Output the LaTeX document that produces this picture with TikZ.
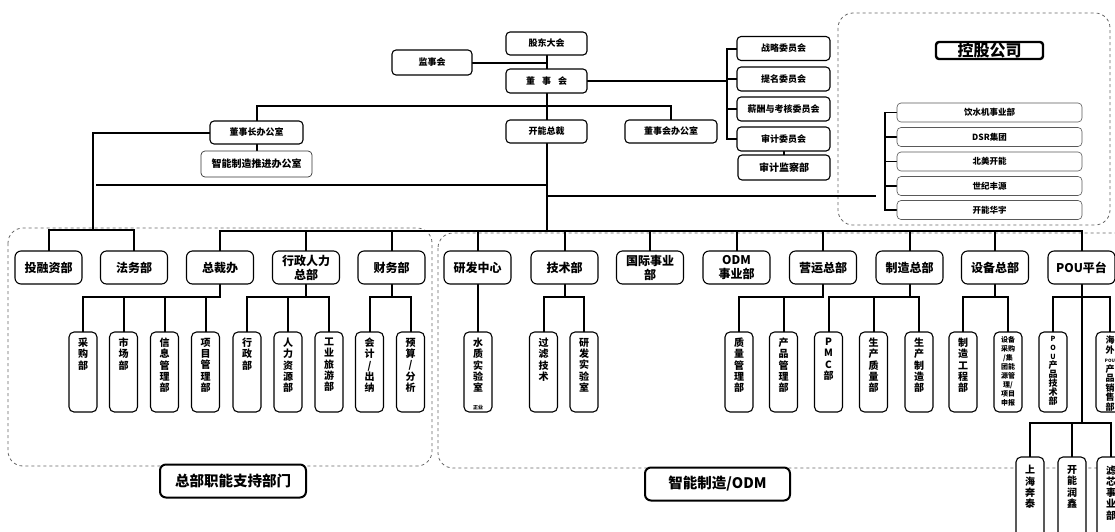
\documentclass[tikz,border=0pt]{standalone}
\usepackage{fontspec}
\setmainfont{Noto Sans CJK SC}
\pgfdeclarelayer{back}
\pgfdeclarelayer{bg}
\pgfsetlayers{back,bg,main}
\newcommand{\vt}[2][5pt]{\parbox[c][78pt][t]{28pt}{\centering\vspace*{#1}#2}}
\begin{document}
\begin{tikzpicture}[x=1pt,y=-1pt,
 base/.style={draw=black,line width=1.1pt,rounded corners=4pt,fill=white,inner sep=0pt,align=center},
 topbox/.style={base,minimum height=23pt,font=\bfseries\fontsize{9}{10}\selectfont},
 rowbox/.style={base,rounded corners=6pt,minimum width=67pt,minimum height=33pt,font=\bfseries\fontsize{12}{14}\selectfont},
 vbox/.style={base,rounded corners=5pt,minimum width=28pt,minimum height=80pt,font=\bfseries\fontsize{10}{11.3}\selectfont},
 subbox/.style={draw=gray!70!black,line width=0.6pt,rounded corners=4pt,fill=white,inner sep=0pt,minimum width=185pt,minimum height=19pt,font=\bfseries\fontsize{8.5}{10}\selectfont},
 labbox/.style={base,line width=2pt,rounded corners=6pt,minimum width=146pt,minimum height=33pt,font=\bfseries\fontsize{14.5}{16}\selectfont},
 conn/.style={line width=2pt,line cap=rect},
 thinconn/.style={line width=1.5pt},
 region/.style={draw=gray!80!black,dashed,line width=0.8pt,rounded corners=15pt}
]
\useasboundingbox (0,0) rectangle (1115,531);
\clip (0,0) rectangle (1115,531);
\begin{pgfonlayer}{back}
\fill[white] (0,0) rectangle (1115,531);
\draw[region] (8,228) rectangle (432,466);
\draw[region] (438,233) rectangle (1160,468);
\draw[region] (838,13) rectangle (1110,225);
\end{pgfonlayer}

% top
\node[topbox,minimum width=81pt] (gd) at (546.5,43.5) {股东大会};
\node[topbox,minimum width=80pt,minimum height=25pt] (jsh) at (432,62.5) {监事会};
\node[topbox,minimum width=81pt,minimum height=24pt] (dsh) at (546.5,81) {董\hspace{7pt}事\hspace{7pt}会};
\node[topbox,minimum width=81pt] (kz) at (546.5,131.5) {开能总裁};
\node[topbox,minimum width=92pt] (dbo) at (671,131.5) {董事会办公室};
\node[topbox,minimum width=93pt] (dzb) at (256.5,132.5) {董事长办公室};
\node[topbox,draw=black!80,line width=0.7pt,minimum width=111pt,minimum height=26pt,font=\bfseries\fontsize{10}{11}\selectfont] (zn) at (256.5,164) {智能制造推进办公室};

% committees
\node[topbox,minimum width=93pt,minimum height=24pt] (zl) at (783.5,48.5) {战略委员会};
\node[topbox,minimum width=93pt,minimum height=24pt] (tm) at (783.5,79) {提名委员会};
\node[topbox,minimum width=93pt,minimum height=24pt] (xc) at (783.5,109) {薪酬与考核委员会};
\node[topbox,minimum width=93pt,minimum height=24pt] (sj) at (783.5,139) {审计委员会};
\node[topbox,minimum width=92pt,minimum height=25pt,font=\bfseries\fontsize{10}{11}\selectfont] (sjb) at (784,167.5) {审计监察部};

% holding
\node[base,line width=2.4pt,rounded corners=3pt,minimum width=107pt,minimum height=17pt,font=\bfseries\fontsize{16}{16}\selectfont] (kg) at (989.5,50.5) {控股公司};
\node[subbox] (h1) at (989.5,112.5) {饮水机事业部};
\node[subbox] (h2) at (989.5,137) {DSR集团};
\node[subbox] (h3) at (989.5,161.5) {北美开能};
\node[subbox] (h4) at (989.5,186) {世纪丰源};
\node[subbox] (h5) at (989.5,210) {开能华宇};

% row 1
\node[rowbox] (tr) at (48.5,267.5) {投融资部};
\node[rowbox] (fw) at (134,267.5) {法务部};
\node[rowbox] (zc) at (220,267.5) {总裁办};
\node[rowbox] (xz) at (306,267.5) {行政人力\\总部};
\node[rowbox] (cw) at (391.5,267.5) {财务部};
\node[rowbox] (yf) at (477.5,267.5) {研发中心};
\node[rowbox] (jsb) at (564.5,267.5) {技术部};
\node[rowbox] (gj) at (650,267.5) {国际事业\\部};
\node[rowbox] (odm) at (736.5,267.5) {ODM\\事业部};
\node[rowbox] (yy) at (823,267.5) {营运总部};
\node[rowbox] (zz) at (909.5,267.5) {制造总部};
\node[rowbox] (sb) at (995,267.5) {设备总部};
\node[rowbox] (pou) at (1081.5,267.5) {POU平台};

% row 2
\node[vbox] (cg) at (83,372) {\vt{采\\购\\部}};
\node[vbox] (sc) at (123.5,372) {\vt{市\\场\\部}};
\node[vbox] (xx) at (164.5,372) {\vt{信\\息\\管\\理\\部}};
\node[vbox] (xm) at (205.5,372) {\vt{项\\目\\管\\理\\部}};
\node[vbox] (xzb) at (247,372) {\vt{行\\政\\部}};
\node[vbox] (rl) at (288,372) {\vt{人\\力\\资\\源\\部}};
\node[vbox] (gy) at (329,372) {\vt{工\\业\\旅\\游\\部}};
\node[vbox] (kj) at (369.5,372) {\vt{会\\计\\/\\出\\纳}};
\node[vbox] (ys) at (410.5,372) {\vt{预\\算\\/\\分\\析}};
\node[vbox] (szs) at (478,372) {\vt{水\\质\\实\\验\\室\par\vfill{\fontsize{5}{5}\selectfont 正业}\par\vspace{1pt}}};
\node[vbox] (gl) at (543.5,372) {\vt{过\\滤\\技\\术}};
\node[vbox] (yfs) at (584,372) {\vt{研\\发\\实\\验\\室}};
\node[vbox] (zlb) at (739,372) {\vt{质\\量\\管\\理\\部}};
\node[vbox] (cp) at (783.5,372) {\vt{产\\品\\管\\理\\部}};
\node[vbox] (pmc) at (828.5,372) {\vt{P\\M\\C\\部}};
\node[vbox] (sczl) at (873.5,372) {\vt{生\\产\\质\\量\\部}};
\node[vbox] (sczz) at (919,372) {\vt{生\\产\\制\\造\\部}};
\node[vbox] (zzgc) at (963,372) {\vt{制\\造\\工\\程\\部}};
\node[vbox,font=\bfseries\fontsize{7}{9}\selectfont] (sbcg) at (1008,372) {\vt[3pt]{设备\\采购\\/集\\团能\\源管\\理/\\项目\\申报}};
\node[vbox,font=\bfseries\fontsize{9}{9}\selectfont] (pout) at (1053,372) {\vt[3pt]{{\fontsize{7}{9}\selectfont P}\\{\fontsize{7}{9}\selectfont O}\\{\fontsize{7}{9}\selectfont U}\\产\\品\\技\\术\\部}};
\node[vbox,font=\bfseries\fontsize{9}{9.5}\selectfont] (hw) at (1110,372) {\vt[3pt]{海\\外\\{\fontsize{4.5}{5}\selectfont POU}\\产\\品\\销\\售\\部}};

% row 3
\node[vbox,minimum height=85pt] (sh) at (1030,499.5) {\vt{上\\海\\奔\\泰}};
\node[vbox,minimum height=85pt] (rx) at (1072,499.5) {\vt{开\\能\\润\\鑫}};
\node[vbox,minimum height=85pt] (lxb) at (1111,499.5) {\vt{滤\\芯\\事\\业\\部}};

% labels
\node[labbox] (lab1) at (233,481) {总部职能支持部门};
\node[labbox,minimum width=145pt] (lab2) at (717.5,484) {智能制造/ODM};

\begin{pgfonlayer}{bg}
\draw[conn] (gd.south) -- (dsh.north);
\draw[conn] (jsh.east) -- (jsh.east -| gd.south);
\coordinate (cbx) at (727,0);
\draw[conn] (dsh.east) -- (dsh.east -| cbx);
\draw[conn] (zl.west -| cbx) -- (sj.west -| cbx);
\foreach \n in {zl,tm,xc,sj} \draw[conn] (\n.west -| cbx) -- (\n.west);
\draw[conn] (sj.south) -- (sj.south |- sjb.north);
\draw[conn] (dsh.south) -- (kz.north);
\coordinate (oy) at (0,106);
\draw[conn] (dzb.north) -- (dzb.north |- oy) -- (dbo.north |- oy) -- (dbo.north);
\draw[conn] (dzb.south) -- (zn.north);
\coordinate (lx0) at (93,0);
\coordinate (busL) at (0,230);
\draw[conn] (dzb.west) -- (dzb.west -| lx0) -- (lx0 |- busL);
\draw[conn] (tr.north) -- (tr.north |- busL) -- (fw.north |- busL) -- (fw.north);
\coordinate (l1a) at (96,185);
\draw[thinconn] (l1a) -- (l1a -| kz.south);
\coordinate (l2b) at (876,196);
\draw[thinconn] (l2b -| kz.south) -- (l2b);
% holding bus
\coordinate (hbx) at (885,0);
\draw[conn] (h1.west -| hbx) -- (h5.west -| hbx);
\foreach \n in {h1,h2,h3,h4,h5} \draw[thinconn] (\n.west -| hbx) -- (\n.west);
% main bus
\coordinate (busM) at (0,231);
\draw[conn] (kz.south) -- (kz.south |- busM);
\draw[conn,line width=2.6pt] (zc.north |- busM) -- (pou.north |- busM);
\foreach \n in {zc,xz,cw,yf,jsb,gj,odm,yy,zz,sb,pou} \draw[conn] (\n.north |- busM) -- (\n.north);
% sub buses
\coordinate (b2) at (0,297);
\draw[conn] (zc.south) -- (zc.south |- b2) -- (cg.north |- b2);
\foreach \n in {cg,sc,xx,xm} \draw[conn] (\n.north |- b2) -- (\n.north);
\draw[conn] (xz.south) -- (xz.south |- b2);
\draw[conn] (xzb.north |- b2) -- (gy.north |- b2);
\foreach \n in {xzb,rl,gy} \draw[conn] (\n.north |- b2) -- (\n.north);
\draw[conn] (cw.south) -- (cw.south |- b2);
\draw[conn] (kj.north |- b2) -- (ys.north |- b2);
\foreach \n in {kj,ys} \draw[conn] (\n.north |- b2) -- (\n.north);
\draw[conn] (yf.south) -- (yf.south |- szs.north);
\draw[conn] (jsb.south) -- (jsb.south |- b2);
\draw[conn] (gl.north |- b2) -- (yfs.north |- b2);
\foreach \n in {gl,yfs} \draw[conn] (\n.north |- b2) -- (\n.north);
\draw[conn] (yy.south) -- (yy.south |- b2) -- (zlb.north |- b2);
\foreach \n in {zlb,cp} \draw[conn] (\n.north |- b2) -- (\n.north);
\draw[conn] (zz.south) -- (zz.south |- b2);
\draw[conn] (pmc.north |- b2) -- (sczz.north |- b2);
\foreach \n in {pmc,sczl,sczz} \draw[conn] (\n.north |- b2) -- (\n.north);
\draw[conn] (sb.south) -- (sb.south |- b2);
\draw[conn] (zzgc.north |- b2) -- (sbcg.north |- b2);
\foreach \n in {zzgc,sbcg} \draw[conn] (\n.north |- b2) -- (\n.north);
\coordinate (b3) at (0,423);
\draw[conn] (pou.south) -- (pou.south |- b3);
\draw[conn] (pout.north |- b2) -- (hw.north |- b2);
\foreach \n in {pout,hw} \draw[conn] (\n.north |- b2) -- (\n.north);
\draw[conn] (sh.north |- b3) -- (lxb.north |- b3);
\foreach \n in {sh,rx,lxb} \draw[conn] (\n.north |- b3) -- (\n.north);
\end{pgfonlayer}
\end{tikzpicture}
\end{document}
